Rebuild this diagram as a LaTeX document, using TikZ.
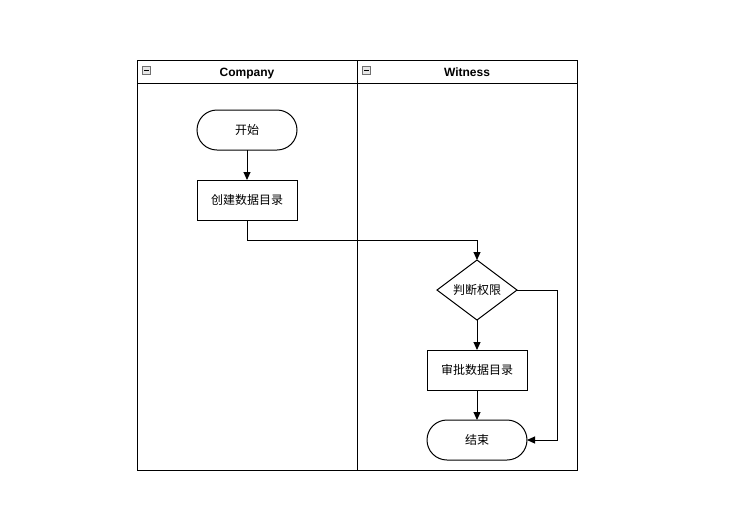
\documentclass[tikz,border=0pt]{standalone}
\usepackage{fontspec}
\setmainfont{Liberation Sans}
\newfontfamily\cjk{Noto Sans CJK SC}
\usepackage{tikz}
\usetikzlibrary{
  arrows.meta,
  shapes.geometric,
  positioning,
  calc
}
\definecolor{flLine}{HTML}{000000}
\definecolor{flIcon}{HTML}{707070}
\definecolor{flIconFill}{HTML}{E6E6E6}
\tikzset{
  flnode/.style={
    draw=flLine, line width=1pt, minimum height=40pt, minimum width=100pt,
    font=\cjk\fontsize{12}{14}\selectfont, align=center, inner sep=2pt, outer sep=0pt
  },
  terminal/.style={flnode, rounded corners=20pt},
  task/.style={flnode},
  decision/.style={flnode, diamond, minimum width=80pt, minimum height=60pt, inner sep=0pt},
  lane/.style={draw=flLine, line width=1pt},
  lanetitle/.style={font=\fontsize{12}{14}\selectfont\bfseries, anchor=base},
  collapse/.style={draw=flIcon, fill=flIconFill, line width=0.7pt, minimum size=8pt, inner sep=0pt},
  flow/.style={-{Triangle[length=8pt, width=7pt]}, line width=1pt, flLine}
}
\begin{document}
\begin{tikzpicture}[x=1pt, y=-1pt, node distance=30pt]
  \useasboundingbox (0,0) rectangle (732,507);
  % swimlanes
  \draw[lane] (137,60) rectangle (357,470);
  \draw[lane] (357,60) rectangle (577,470);
  \draw[lane] (137,83) -- (577,83);
  \node[lanetitle] (tc) at (247,76) {Company};
  \node[lanetitle] (tw) at (467,76) {Witness};
  \node[collapse] (ic) at (146.5,70) {};
  \draw[line width=0.8pt] ($(ic.center)+(-2.5,0)$) -- ($(ic.center)+(2.5,0)$);
  \node[collapse] (iw) at (366.5,70) {};
  \draw[line width=0.8pt] ($(iw.center)+(-2.5,0)$) -- ($(iw.center)+(2.5,0)$);
  % Company
  \node[terminal] (start) at (247,130) {开始};
  \node[task, below=of start] (create) {创建数据目录};
  % Witness
  \node[decision] (check) at (477,290) {判断权限};
  \node[task, below=of check] (approve) {审批数据目录};
  \node[terminal, below=of approve] (finish) {结束};
  % flows
  \draw[flow] (start) -- (create);
  \draw[flow] (create.south) -- ++(0,20) -| (check.north);
  \draw[flow] (check) -- (approve);
  \draw[flow] (approve) -- (finish);
  \draw[flow] (check.east) -- ++(40,0) |- (finish.east);
\end{tikzpicture}
\end{document}
